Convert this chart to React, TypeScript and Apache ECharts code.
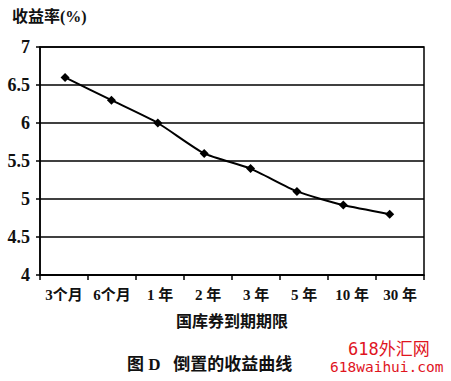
import React, { useEffect, useRef } from "react";
import * as echarts from "echarts";

const categories = ["3个月", "6个月", "1 年", "2 年", "3 年", "5 年", "10 年", "30 年"];
const yields = [6.6, 6.3, 6.0, 5.6, 5.4, 5.1, 4.92, 4.8];
const yAxisTitle = "收益率(%)";
const xAxisTitle = "国库券到期期限";
const caption = "图 D   倒置的收益曲线";
const watermark1 = "618外汇网";
const watermark2 = "618waihui.com";

const FONT = '"Liberation Serif", "Noto Sans CJK SC", serif';

export default function App() {
  const ref = useRef<HTMLDivElement>(null);
  useEffect(() => {
    if (!ref.current) return;
    const chart = echarts.init(ref.current, undefined, { renderer: "svg" });
    chart.setOption({
      animation: false,
      backgroundColor: "#fff",
      grid: {
        left: 40,
        right: 27,
        top: 47,
        bottom: 106,
        show: true,
        borderColor: "#000",
        borderWidth: 1.5,
      },
      xAxis: [
        {
          type: "category",
          data: categories,
          boundaryGap: true,
          axisLine: { onZero: false, lineStyle: { color: "#000", width: 1.5 } },
          axisTick: { show: true, length: 5, lineStyle: { color: "#000", width: 1.5 } },
          axisLabel: {
            color: "#111",
            fontFamily: FONT,
            fontWeight: "bold",
            fontSize: 15,
            margin: 12,
            interval: 0,
          },
          name: xAxisTitle,
          nameLocation: "middle",
          nameGap: 38,
          nameTextStyle: {
            color: "#111",
            fontFamily: FONT,
            fontWeight: "bold",
            fontSize: 16,
          },
        },
        {
          type: "value",
          min: -0.54,
          max: 7.74,
          show: false,
        },
      ],
      yAxis: {
        type: "value",
        min: 4,
        max: 7,
        interval: 0.5,
        axisLine: { show: true, onZero: false, lineStyle: { color: "#000", width: 1.5 } },
        axisTick: { show: true, length: 4, lineStyle: { color: "#000", width: 1.5 } },
        splitLine: { show: true, lineStyle: { color: "#000", width: 1.5 } },
        axisLabel: {
          color: "#111",
          fontFamily: FONT,
          fontWeight: "bold",
          fontSize: 18,
          margin: 10,
        },
      },
      series: [
        {
          type: "line",
          xAxisIndex: 1,
          data: yields.map((v, i) => [i, v]),
          smooth: 0.2,
          symbol: "diamond",
          symbolSize: 9,
          lineStyle: { color: "#000", width: 2 },
          itemStyle: { color: "#000" },
        },
      ],
      graphic: [
        {
          type: "text",
          left: 12,
          top: 8,
          style: {
            text: yAxisTitle,
            fill: "#111",
            font: `bold 16px ${FONT}`,
          },
        },
        {
          type: "text",
          left: 127,
          top: 356,
          style: {
            text: caption,
            fill: "#111",
            font: `bold 17px ${FONT}`,
          },
        },
        {
          type: "text",
          left: 348,
          top: 340,
          style: {
            text: watermark1,
            fill: "#e0141e",
            font: `17px "DejaVu Sans Mono", "Noto Sans CJK SC", monospace`,
          },
        },
        {
          type: "text",
          left: 330,
          top: 359,
          style: {
            text: watermark2,
            fill: "#e0141e",
            font: `14.5px "DejaVu Sans Mono", monospace`,
          },
        },
      ],
    });
    return () => chart.dispose();
  }, []);
  return (
    <div
      ref={ref}
      style={{ position: "fixed", left: 0, top: 0, width: 451, height: 381 }}
    />
  );
}
